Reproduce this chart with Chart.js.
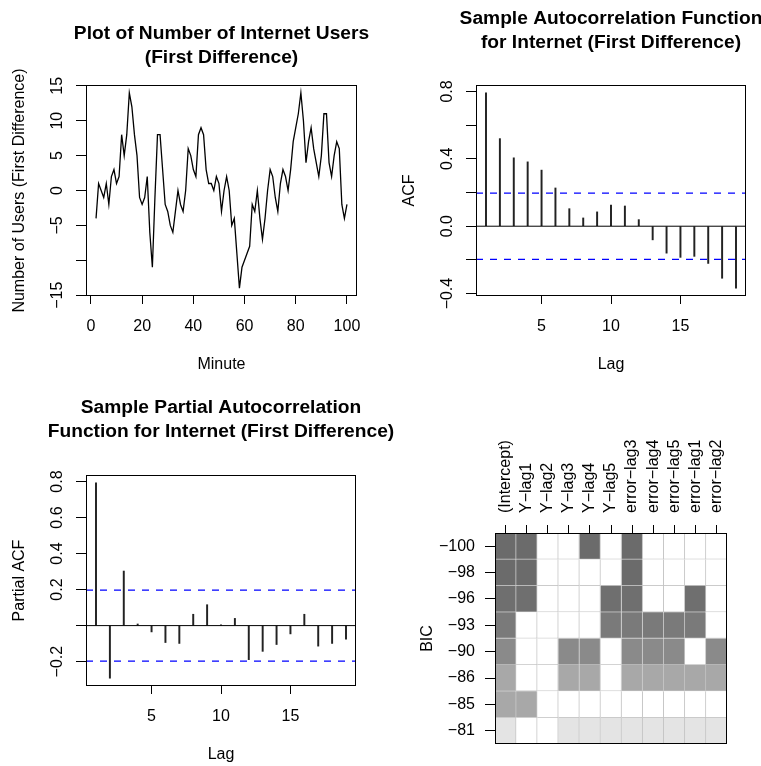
<!DOCTYPE html>
<html lang="en">
<head>
<meta charset="UTF-8">
<title>Internet users - first difference, ACF, PACF, BIC</title>
<script src="https://cdn.jsdelivr.net/npm/chart.js"></script>
<style>
    html, body { margin: 0; padding: 0; background: #fff; overflow: hidden; }
    body { width: 761px; height: 766px; position: relative; }
    canvas { position: absolute; }
    #ts   { left: 0;     top: 0; }
    #acf  { left: 400px; top: 0; }
    #pacf { left: 0;     top: 383px; }
    #bic  { left: 380px; top: 383px; }
</style>
</head>
<body>
<canvas id="ts" width="443" height="383"></canvas>
<canvas id="acf" width="422" height="383"></canvas>
<canvas id="pacf" width="442" height="383"></canvas>
<canvas id="bic" width="381" height="383"></canvas>

<script>
// ---- data ----
var firstMinute = 2;
var diffUsers = [-4, 1, 0, -1, 1, -2, 2, 3, 1, 2,
                 8, 5, 8, 14, 12, 8, 5, -1, -2, -1,
                 2, -6, -11, -1, 8, 8, 3, -2, -3, -5,
                 -6, -3, 0, -2, -3, 0, 6, 5, 3, 2,
                 8, 9, 8, 3, 1, 1, 0, 2, 1, -3,
                 0, 2, 0, -5, -4, -9, -14, -11, -10, -9,
                 -8, -2, -3, 0, -4, -7, -4, 0, 3, 2,
                 -1, -3, 1, 3, 2, 0, 3, 7, 9, 11,
                 14, 10, 4, 7, 9, 6, 4, 2, 5, 11,
                 11, 4, 2, 5, 7, 6, -2, -4, -2];
var tsXTicks = [0, 20, 40, 60, 80, 100];
var tsXText = ['0', '20', '40', '60', '80', '100'];
var tsYTicks = [-15, -10, -5, 0, 5, 10, 15];
var tsYText = ['\u221215', '', '\u22125', '0', '5', '10', '15'];

var lags = [1, 2, 3, 4, 5, 6, 7, 8, 9, 10, 11, 12, 13, 14, 15, 16, 17, 18, 19];
var acfVals = [0.792, 0.520, 0.406, 0.382, 0.333, 0.227, 0.104, 0.049, 0.085, 0.126,
               0.120, 0.039, -0.081, -0.160, -0.185, -0.179, -0.221, -0.309, -0.368];
var pacfVals = [0.793, -0.292, 0.303, 0.009, -0.035, -0.094, -0.099, 0.063, 0.116, 0.004,
                0.040, -0.189, -0.143, -0.105, -0.046, 0.063, -0.114, -0.099, -0.075];
var confLimit = 0.197;
var lagTicks = [5, 10, 15];
var lagText = ['5', '10', '15'];
var acfYTicks = [-0.4, -0.2, 0, 0.2, 0.4, 0.6, 0.8];
var acfYText = ['\u22120.4', '', '0.0', '', '0.4', '', '0.8'];
var pacfYTicks = [-0.2, 0, 0.2, 0.4, 0.6, 0.8];
var pacfYText = ['\u22120.2', '', '0.2', '0.4', '0.6', '0.8'];

var bicLabels = ['\u2212100', '\u221298', '\u221296', '\u221293', '\u221290', '\u221286', '\u221285', '\u221281'];
var termLabels = ['(Intercept)', 'Y\u2212lag1', 'Y\u2212lag2', 'Y\u2212lag3', 'Y\u2212lag4', 'Y\u2212lag5',
                  'error\u2212lag3', 'error\u2212lag4', 'error\u2212lag5', 'error\u2212lag1', 'error\u2212lag2'];
var inModel = [
    [1, 1, 0, 0, 1, 0, 1, 0, 0, 0, 0],
    [1, 1, 0, 0, 0, 0, 1, 0, 0, 0, 0],
    [1, 1, 0, 0, 0, 1, 1, 0, 0, 1, 0],
    [1, 0, 0, 0, 0, 1, 1, 1, 1, 1, 0],
    [1, 0, 0, 1, 1, 0, 1, 1, 1, 0, 1],
    [1, 0, 0, 1, 1, 0, 1, 1, 1, 1, 1],
    [1, 1, 0, 0, 0, 0, 0, 0, 0, 0, 0],
    [1, 0, 0, 1, 1, 1, 1, 1, 1, 1, 1]
];
var rowShade = ['#6b6b6b', '#6b6b6b', '#6f6f6f', '#7a7a7a', '#8a8a8a', '#a8a8a8', '#a8a8a8', '#e4e4e4'];

// ---- look ----
var FONT = '"Liberation Sans", Arial, Helvetica, sans-serif';
var FS = 16;
var TICK_X = 8, TICK_Y = 10;
Chart.defaults.font.family = FONT;
Chart.defaults.font.size = FS;
Chart.defaults.color = '#000';
Chart.defaults.animation = false;
Chart.defaults.plugins.legend.display = false;
Chart.defaults.plugins.tooltip.enabled = false;

// R style box round the plot region
var boxPlugin = {
    id: 'rbox',
    afterDatasetsDraw: function (chart) {
        var a = chart.chartArea, c = chart.ctx;
        c.save();
        c.strokeStyle = '#000';
        c.lineWidth = 1;
        c.strokeRect(Math.round(a.left) + 0.5, Math.round(a.top) + 0.5,
                     Math.round(a.right - a.left) - 1, Math.round(a.bottom - a.top) - 1);
        c.restore();
    }
};

// R pads the data range by 4% each side
function rRange(values) {
    var lo = Math.min.apply(null, values), hi = Math.max.apply(null, values);
    var pad = (hi - lo) * 0.04;
    return [lo - pad, hi + pad];
}

function widest(labels) {
    var ctx = document.createElement('canvas').getContext('2d');
    ctx.font = FS + 'px ' + FONT;
    return Math.max.apply(null, labels.map(function (t) { return ctx.measureText(t).width; }));
}

function fixTicks(values) {
    return function (scale) {
        scale.ticks = values.map(function (v) { return { value: v }; });
    };
}

function titleOpts(lines, padTop, padBottom) {
    return {
        display: true, text: lines, color: '#000',
        font: { size: 19.2, weight: 'bold', lineHeight: '24px' },
        padding: { top: padTop, bottom: padBottom }
    };
}

// empty right-hand box so the (full width) title centres over the plot
function spacer(width) {
    return {
        type: 'linear', axis: 'y', position: 'right', display: true,
        grid: { display: false }, border: { display: false }, ticks: { display: false },
        afterFit: function (s) { s.width = width; }
    };
}

function xAxis(range, vals, texts, height, title, titlePad) {
    return {
        type: 'linear', min: range[0], max: range[1], bounds: 'data', offset: false,
        afterBuildTicks: fixTicks(vals),
        afterFit: function (s) { s.height = height; s.paddingLeft = 0; s.paddingRight = 0; },
        grid: { drawOnChartArea: false, tickLength: TICK_X, color: '#000', offset: false },
        border: { display: false },
        ticks: { autoSkip: false, maxRotation: 0, padding: 13,
                 callback: function (v, i) { return texts[i]; } },
        title: { display: true, text: title, padding: { top: 0, bottom: titlePad } }
    };
}

function yAxis(range, vals, texts, width, title, titlePad) {
    var w = widest(texts.filter(function (t) { return t; }));
    return {
        type: 'linear', min: range[0], max: range[1], bounds: 'data',
        afterBuildTicks: fixTicks(vals),
        afterFit: function (s) { s.width = width; s.paddingTop = 0; s.paddingBottom = 0; },
        grid: { drawOnChartArea: false, tickLength: TICK_Y, color: '#000' },
        border: { display: false },
        ticks: { autoSkip: false, minRotation: 90, maxRotation: 90, crossAlign: 'center',
                 padding: 28.5 - TICK_Y - w / 2,
                 callback: function (v, i) { return texts[i]; } },
        title: { display: true, text: title, padding: { top: titlePad, bottom: 0 } }
    };
}

// ---- 1. time series ----
var tsX = rRange([firstMinute, firstMinute + diffUsers.length - 1]);
var tsY = rRange(diffUsers);
new Chart(document.getElementById('ts'), {
    type: 'scatter',
    data: {
        datasets: [{
            data: diffUsers.map(function (v, i) { return { x: firstMinute + i, y: v }; }),
            showLine: true, borderColor: '#000', borderWidth: 1.3, pointRadius: 0
        }]
    },
    options: {
        responsive: false,
        layout: { padding: 0 },
        plugins: { title: titleOpts(['Plot of Number of Internet Users', '(First Difference)'], 22, 15) },
        scales: {
            x: xAxis(tsX, tsXTicks, tsXText, 87, 'Minute', 8.4),
            y: yAxis(tsY, tsYTicks, tsYText, 86, 'Number of Users (First Difference)', 10.4),
            pad: spacer(86)
        }
    },
    plugins: [boxPlugin]
});

// ---- 2./3. correlograms ----
function corrChart(id, vals, yTicks, yText, title, tPad, yWidth, rightPad, xHeight, xTitlePad, yTitle, yTitlePad) {
    var xr = rRange(lags);
    var yr = rRange(vals.concat([confLimit, -confLimit]));
    var dashed = { type: 'line', borderColor: '#0000ff', borderWidth: 1.2, borderDash: [7, 7], pointRadius: 0 };
    new Chart(document.getElementById(id), {
        type: 'bar',
        data: {
            datasets: [
                Object.assign({ data: [{ x: xr[0], y: confLimit }, { x: xr[1], y: confLimit }] }, dashed),
                Object.assign({ data: [{ x: xr[0], y: -confLimit }, { x: xr[1], y: -confLimit }] }, dashed),
                { type: 'line', data: [{ x: xr[0], y: 0 }, { x: xr[1], y: 0 }],
                  borderColor: '#000', borderWidth: 1, pointRadius: 0 },
                { type: 'bar', data: lags.map(function (l, i) { return { x: l, y: vals[i] }; }),
                  backgroundColor: '#222', barThickness: 1.3 }
            ]
        },
        options: {
            responsive: false,
            layout: { padding: 0 },
            plugins: { title: titleOpts(title, tPad[0], tPad[1]) },
            scales: {
                x: xAxis(xr, lagTicks, lagText, xHeight, 'Lag', xTitlePad),
                y: yAxis(yr, yTicks, yText, yWidth, yTitle, yTitlePad),
                pad: spacer(rightPad)
            }
        },
        plugins: [boxPlugin]
    });
}

corrChart('acf', acfVals, acfYTicks, acfYText,
          ['Sample Autocorrelation Function', 'for Internet (First Difference)'], [6.5, 30.5],
          76, 76, 87, 8.4, 'ACF', 0.4);
corrChart('pacf', pacfVals, pacfYTicks, pacfYText,
          ['Sample Partial Autocorrelation', 'Function for Internet (First Difference)'], [13, 31],
          86, 86, 80, 1.4, 'Partial ACF', 10.4);

// ---- 4. BIC subsets ----
new Chart(document.getElementById('bic'), {
    type: 'bar',
    data: {
        labels: bicLabels,
        datasets: termLabels.map(function (term, j) {
            return {
                label: term,
                data: bicLabels.map(function () { return 1; }),
                backgroundColor: inModel.map(function (row, r) { return row[j] ? rowShade[r] : '#ffffff'; }),
                borderColor: '#c4c4c4',
                borderWidth: { top: 0, left: 0, right: 1, bottom: 1 },
                borderSkipped: false,
                barPercentage: 1,
                categoryPercentage: 1
            };
        })
    },
    options: {
        indexAxis: 'y',
        responsive: false,
        layout: { padding: { left: 0, top: 0, right: 34, bottom: 22 } },
        scales: {
            x: {
                type: 'linear', position: 'top', stacked: true, min: 0, max: termLabels.length,
                bounds: 'data', offset: false,
                afterBuildTicks: function (s) {
                    s.ticks = termLabels.map(function (t, j) { return { value: j + 0.5 }; });
                },
                afterFit: function (s) { s.height = 150; s.paddingLeft = 0; s.paddingRight = 0; },
                grid: { drawOnChartArea: false, tickLength: TICK_X, color: '#000', offset: false },
                border: { display: false },
                ticks: { autoSkip: false, minRotation: 90, maxRotation: 90, padding: 12, labelOffset: FS * 1.2,
                         callback: function (v, i) { return termLabels[i]; } }
            },
            y: {
                type: 'category', stacked: true, offset: true,
                afterFit: function (s) { s.width = 115; s.paddingTop = 0; s.paddingBottom = 0; },
                grid: { drawOnChartArea: false, tickLength: TICK_Y, color: '#000', offset: false },
                border: { display: false },
                ticks: { autoSkip: false, padding: 10 },
                title: { display: true, text: 'BIC', padding: { top: 38.4, bottom: 0 } }
            }
        }
    },
    plugins: [boxPlugin]
});
</script>
</body>
</html>
